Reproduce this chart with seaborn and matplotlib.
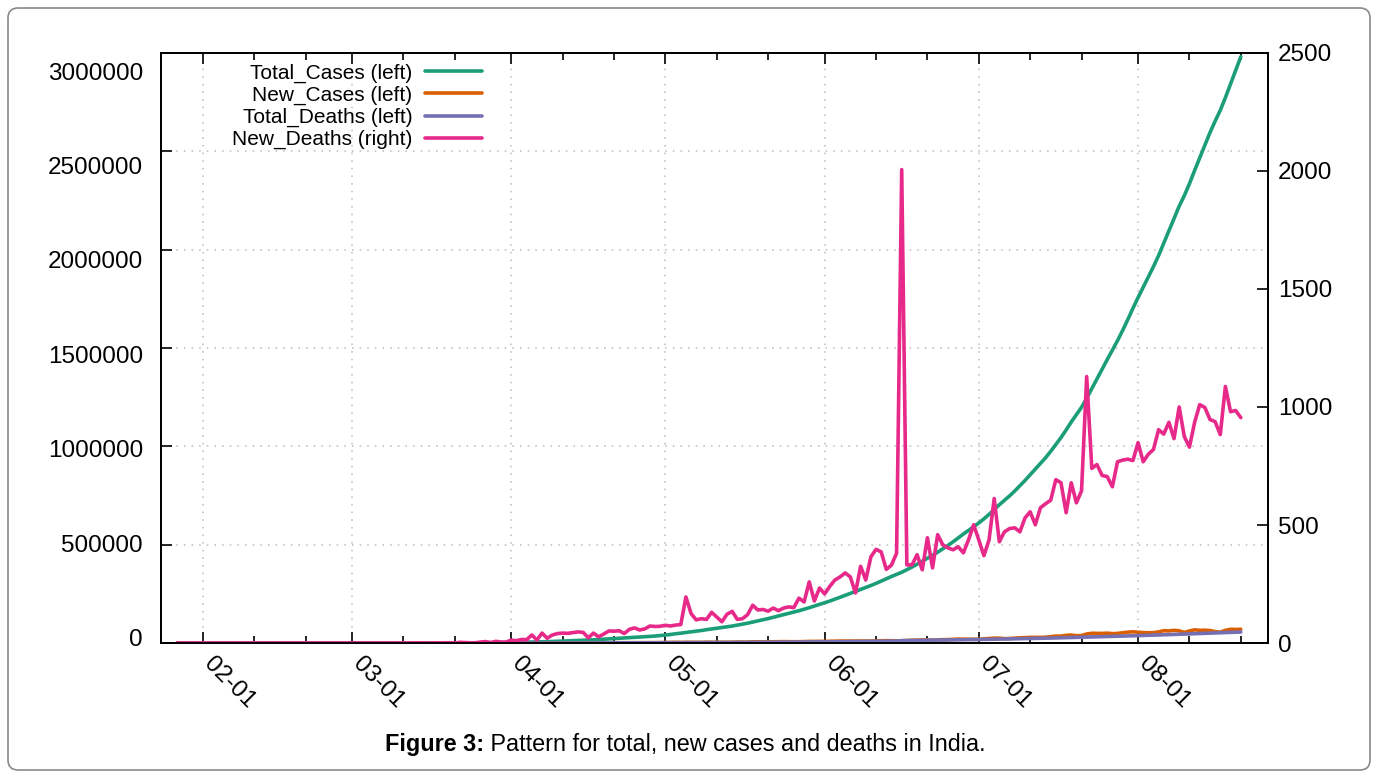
import numpy as np
import pandas as pd
import matplotlib
matplotlib.use('Agg')
import matplotlib.pyplot as plt
import matplotlib.dates as mdates
from matplotlib.patches import FancyBboxPatch
from matplotlib.transforms import IdentityTransform, ScaledTranslation
import seaborn as sns

# Daily values for India, 2020-01-27 .. 2020-08-21
cases_jan = [0, 0, 1, 0, 0]
cases_feb = [1, 1] + [0] * 27
cases_mar = [2, 1, 22, 2, 1, 3, 5, 9, 15, 8,
             10, 10, 1, 26, 11, 34, 14, 38, 50, 86,
             66, 103, 37, 121, 70, 160, 100, 106, 227, 146,
             601]
cases_apr = [545, 478, 513, 690, 704, 354, 773, 549, 1013, 1033,
             918, 796, 1211, 1076, 1118, 1007, 1334, 1553, 1336, 1540,
             1290, 1667, 1408, 1835, 1607, 1561, 1873, 1738, 1801, 2396]
cases_may = [2564, 2952, 3656, 2971, 3602, 3344, 3339, 3175, 4311, 3592,
             3562, 3524, 3763, 3942, 4864, 5050, 4630, 6147, 5611, 5609,
             6088, 6654, 6767, 6977, 6535, 6387, 6566, 7466, 7964, 8380,
             8392]
cases_jun = [8171, 8909, 9304, 9851, 9887, 9971, 9983, 9987, 9985, 9996,
             10956, 11458, 11929, 11502, 10667, 10974, 12881, 13586, 14516, 15413,
             14821, 14933, 15968, 16922, 17296, 18552, 19906, 19459, 18522, 18653]
cases_jul = [19148, 20903, 22771, 24850, 24248, 22252, 22752, 24879, 26506, 27114,
             28637, 28701, 28498, 29429, 32695, 34956, 34884, 38902, 40425, 37148,
             37724, 45720, 49310, 48916, 48661, 49931, 47703, 48513, 52123, 55078,
             57118]
cases_aug = [54735, 52972, 52050, 52509, 56282, 62538, 61537, 64399, 62064, 53601,
             60963, 66999, 64553, 65002, 63490, 57981, 55079, 64531, 69652, 68898,
             69878]

deaths_jan = [0] * 5
deaths_feb = [0] * 29
deaths_mar = [0, 0, 0, 0, 0, 0, 0, 0, 0, 0,
              0, 1, 0, 1, 0, 0, 1, 0, 1, 1,
              0, 3, 2, 1, 1, 4, 6, 2, 7, 4,
              4]
deaths_apr = [12, 10, 15, 14, 34, 13, 42, 20, 34, 40,
              42, 41, 44, 47, 45, 22, 42, 26, 38, 51,
              50, 52, 40, 58, 64, 55, 60, 72, 70, 71]
deaths_may = [75, 72, 76, 78, 195, 125, 98, 103, 100, 130,
              110, 90, 122, 134, 100, 103, 120, 160, 140, 142,
              135, 148, 137, 148, 153, 150, 190, 174, 259, 178,
              233]
deaths_jun = [208, 240, 267, 280, 297, 280, 212, 325, 267, 365,
              397, 386, 312, 330, 380, 2006, 331, 331, 374, 310,
              446, 318, 459, 416, 403, 395, 408, 382, 437, 501]
deaths_jul = [437, 370, 437, 612, 429, 471, 485, 488, 471, 530,
              556, 501, 573, 590, 605, 692, 679, 552, 679, 594,
              645, 1129, 740, 756, 710, 705, 662, 768, 775, 779,
              773]
deaths_aug = [849, 768, 800, 820, 904, 885, 935, 866, 1000, 875,
              830, 934, 1010, 998, 947, 938, 883, 1087, 980, 985,
              955]

new_cases = cases_jan + cases_feb + cases_mar + cases_apr + cases_may + cases_jun + cases_jul + cases_aug
new_deaths = deaths_jan + deaths_feb + deaths_mar + deaths_apr + deaths_may + deaths_jun + deaths_jul + deaths_aug
dates = pd.date_range('2020-01-27', periods=len(new_cases), freq='D')

df = pd.DataFrame({'date': dates, 'New_Cases': new_cases, 'New_Deaths': new_deaths})
df['Total_Cases'] = df['New_Cases'].cumsum()
df['Total_Deaths'] = df['New_Deaths'].cumsum()

sns.set_style('ticks')
plt.rcParams['font.family'] = ['Liberation Sans', 'DejaVu Sans']
plt.rcParams['text.color'] = 'black'

colors = sns.color_palette('Dark2')
W, H = 1378, 773
fig = plt.figure(figsize=(W / 100, H / 100), dpi=100)
ax = fig.add_axes([161 / W, 1 - 643 / H, (1268 - 161) / W, (643 - 53) / H])
ax2 = ax.twinx()

lw = 2.6
sns.lineplot(data=df, x='date', y='Total_Cases', ax=ax, color=colors[0], lw=lw, label='Total_Cases (left)')
sns.lineplot(data=df, x='date', y='New_Cases', ax=ax, color=colors[1], lw=lw, label='New_Cases (left)')
sns.lineplot(data=df, x='date', y='Total_Deaths', ax=ax, color=colors[2], lw=lw, label='Total_Deaths (left)')
sns.lineplot(data=df, x='date', y='New_Deaths', ax=ax2, color=colors[3], lw=lw, label='New_Deaths (right)')

h1, l1 = ax.get_legend_handles_labels()
h2, l2 = ax2.get_legend_handles_labels()
ax.get_legend().remove()
ax2.get_legend().remove()
leg = ax2.legend(h1 + h2, l1 + l2, loc='upper right', bbox_to_anchor=(0.29, 0.982),
                 frameon=False, markerfirst=False, fontsize=15, handlelength=2.75,
                 handletextpad=0.6, labelspacing=0.14, borderpad=0, borderaxespad=0,
                 labelcolor='black')
for col in leg._legend_handle_box.get_children():
    col.align = 'right'

ax.set_xlim(pd.Timestamp('2020-01-23 20:00'), pd.Timestamp('2020-08-26 07:00'))
ax.set_ylim(0, 3000000)
ax2.set_ylim(0, 2500)
left_ticks = np.arange(0, 3000001, 500000)
ax.set_yticks(left_ticks)
ax2.set_yticks(np.arange(0, 2501, 500))
ax.ticklabel_format(axis='y', style='plain', useOffset=False)

ax.xaxis.set_major_locator(mdates.MonthLocator())
ax.xaxis.set_major_formatter(mdates.DateFormatter('%m-%d'))
ax.xaxis.set_minor_locator(mdates.DayLocator(bymonthday=[11, 21]))

ax.set_xlabel('')
ax.set_ylabel('')
ax2.set_ylabel('')

ax.tick_params(axis='x', which='both', direction='in', top=True, bottom=True,
               labelsize=17.5, pad=16, color='black', labelcolor='black')
ax.tick_params(axis='x', which='major', length=8, width=1.2)
ax.tick_params(axis='x', which='minor', length=5, width=1.2)
ax.tick_params(axis='y', direction='in', length=8, width=1.2, left=True, right=False,
               labelsize=17.5, pad=13, color='black', labelcolor='black')
ax2.tick_params(axis='y', direction='in', length=8, width=1.2, right=True, left=False,
                labelsize=17.5, pad=7, color='black', labelcolor='black')
plt.setp(ax.get_xticklabels(), rotation=-45, ha='left', va='baseline', rotation_mode='anchor')

ax.grid(True, which='major', axis='both', color='#bbbbbb', linestyle=(0, (1, 4)), linewidth=1.1)

for a in (ax, ax2):
    for sp in a.spines.values():
        sp.set_color('black')
        sp.set_linewidth(1.3)

# outer frame
frame = FancyBboxPatch((8, 3), W - 16, H - 11, boxstyle='round,pad=0,rounding_size=10',
                       transform=IdentityTransform(), facecolor='none',
                       edgecolor='#8a8a8a', linewidth=1.2)
fig.patches.append(frame)

fig.canvas.draw()
r = fig.canvas.get_renderer()

# left labels in the original sit on a slightly compressed scale
for tick, v in zip(ax.yaxis.get_major_ticks(), left_ticks):
    off = -5 + 23 * v / 3000000
    tick.label1.set_transform(tick.label1.get_transform()
                              + ScaledTranslation(0, -off / 100, fig.dpi_scale_trans))

# caption: bold prefix + normal text, centered
t1 = fig.text(0, 1 - 745 / H, 'Figure 3:', fontsize=16.8, weight='bold', va='center', color='black')
t2 = fig.text(0, 1 - 745 / H, ' Pattern for total, new cases and deaths in India.', fontsize=16.8,
              va='center', color='black')
w1 = t1.get_window_extent(r).width
w2 = t2.get_window_extent(r).width
x0 = (W - (w1 + w2)) / 2 - 4
t1.set_x(x0 / W)
t2.set_x((x0 + w1) / W)

fig.savefig('out.png', dpi=100)
